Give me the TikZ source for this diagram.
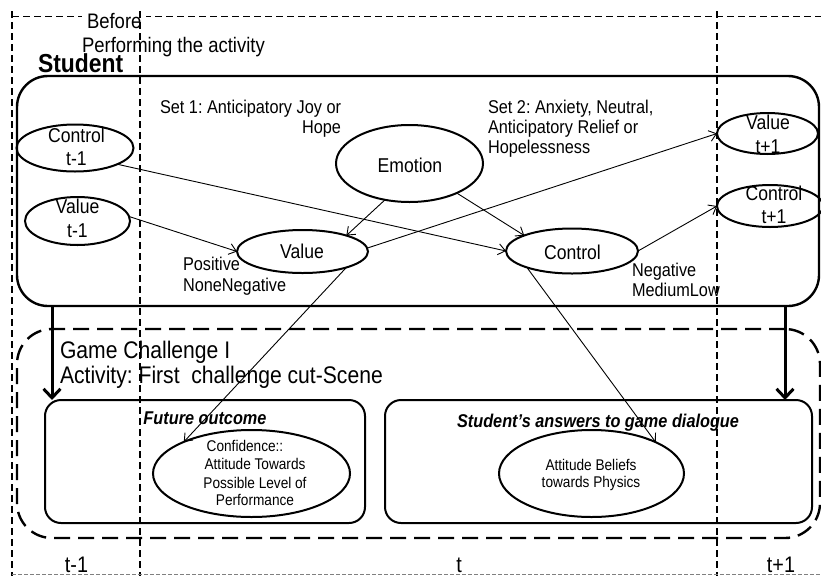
\documentclass[tikz,border=0pt]{standalone}
\usepackage{fontspec}
\setmainfont{Liberation Sans}[FakeStretch=0.88]
\usetikzlibrary{shapes.geometric,arrows.meta,calc}
\newcommand\myfs[1]{\fontsize{#1}{#1}\selectfont}
\frenchspacing
\begin{document}
\begin{tikzpicture}[x=1pt,y=-1pt,
  every node/.style={inner sep=0pt, outer sep=0pt},
  oval/.style={ellipse, draw, line width=2pt, inner sep=0pt},
  ovtxt/.style={anchor=base, font=\myfs{20}},
  lbl/.style={font=\myfs{18.5}},
  dashframe/.style={line width=1.1pt, dash pattern=on 7pt off 4pt},
  conn/.style={line width=0.9pt, -{Straight Barb[length=7pt,width=11pt,line width=0.9pt]}},
  bigarrow/.style={line width=3pt, -{Straight Barb[length=9pt,width=17pt,line width=3pt]}},
  box/.style={draw, line width=2pt, rounded corners=16pt},
]
\useasboundingbox (0,0) rectangle (821,576);

% big boxes
\node[draw, line width=2.4pt, rounded corners=31pt, minimum width=802pt, minimum height=230pt] (stud) at (418,191) {};
\node[draw, line width=2.4pt, dash pattern=on 16pt off 8pt, rounded corners=35pt, minimum width=803pt, minimum height=209pt] (game) at (418.5,433.5) {};
\node[box, minimum width=320pt, minimum height=123pt] (fut) at (205,461.5) {};
\node[box, minimum width=427pt, minimum height=123pt] (ans) at (598.5,461.5) {};

% ellipses
\node[oval, minimum width=117pt, minimum height=47pt] (ct1) at (75,148) {};
\node[oval, minimum width=105pt, minimum height=48pt] (vt1) at (77.5,221) {};
\node[oval, minimum width=147pt, minimum height=77pt] (em) at (409.5,163.5) {};
\node[oval, minimum width=131pt, minimum height=43pt] (vm) at (302.5,251.5) {};
\node[oval, minimum width=132pt, minimum height=45pt] (cm) at (572,251) {};
\node[oval, minimum width=101pt, minimum height=41pt] (vp1) at (767.5,133.5) {};
\node[oval, minimum width=106pt, minimum height=42pt] (cp1) at (770,206) {};
\node[oval, minimum width=197pt, minimum height=87pt] (conf) at (251.5,473.5) {};
\node[oval, minimum width=185pt, minimum height=87pt] (att) at (591.5,473.5) {};

% ellipse texts
\node[ovtxt] (ct1a) at (76.5,142) {Control};
\node[ovtxt] (ct1b) at (76.5,165) {t-1};
\node[ovtxt] (vt1a) at (77.5,213) {Value};
\node[ovtxt] (vt1b) at (77.5,237) {t-1};
\node[ovtxt] (emt) at (410,172) {Emotion};
\node[ovtxt] (vmt) at (302,258) {Value};
\node[ovtxt] (cmt) at (572.5,259) {Control};
\node[ovtxt] (vp1a) at (768,129) {Value};
\node[ovtxt] (vp1b) at (768,153) {t+1};
\node[ovtxt] (cp1a) at (774,200) {Control};
\node[ovtxt] (cp1b) at (774,223) {t+1};

\node[anchor=base, font=\myfs{15.5}] (cf1) at (245,451) {Confidence::};
\node[anchor=base, font=\myfs{15.5}] (cf2) at (255,469) {Attitude Towards};
\node[anchor=base, font=\myfs{15.5}] (cf3) at (255,488) {Possible Level of};
\node[anchor=base, font=\myfs{15.5}] (cf4) at (255,505) {Performance};
\node[anchor=base, font=\myfs{15.5}] (at1) at (591,470) {Attitude Beliefs};
\node[anchor=base, font=\myfs{15.5}] (at2) at (591,487) {towards Physics};

% labels
\node[lbl, anchor=base east] (s1a) at (341,113) {Set 1: Anticipatory Joy or};
\node[lbl, anchor=base east] (s1b) at (341,133) {Hope};
\node[lbl, anchor=base west] (s2a) at (488,113) {Set 2: Anxiety, Neutral,};
\node[lbl, anchor=base west] (s2b) at (488,133) {Anticipatory Relief or};
\node[lbl, anchor=base west] (s2c) at (488,153) {Hopelessness};
\node[lbl, anchor=base west] (pos) at (183,270) {Positive};
\node[lbl, anchor=base west] (nn) at (183,291) {NoneNegative};
\node[lbl, anchor=base west] (neg) at (632,276) {Negative};
\node[lbl, anchor=base west] (ml) at (632,296) {MediumLow};

\node[anchor=base west, font=\myfs{24}] (gc) at (60,358) {Game Challenge I};
\node[anchor=base west, font=\myfs{24}] (act) at (60,383) {Activity: First\ \ challenge cut-Scene};
\node[anchor=base, font=\bfseries\itshape\myfs{18.5}] (futt) at (205,424) {Future outcome};
\node[anchor=base, font=\bfseries\itshape\myfs{18.5}] (anst) at (598,427) {Student’s answers to game dialogue};

% connectors
\draw[conn] (ct1.-21) -- (cm.west);
\draw[conn] (vt1.5) -- (vm.west);
\draw[conn] (em.-124) -- (vm.20);
\draw[conn] (em.-32) -- (cm.162);
\draw[conn] (vm.3) -- (vp1.west);
\draw[conn] (cm.east) -- (cp1.west);
\draw[conn] (vm.-20) -- (conf.155);
\draw[conn] (cm.-160) -- (att.26);

\coordinate (la) at (52,350);
\coordinate (ra) at (785,350);
\draw[bigarrow] (stud.south -| la) -- (fut.north -| la);
\draw[bigarrow] (stud.south -| ra) -- (ans.north -| ra);

% time labels
\node[anchor=base, font=\myfs{22.5}] (tm1) at (76.5,572) {t-1};
\node[anchor=base, font=\myfs{22.5}] (t0) at (459,572) {t};
\node[anchor=base, font=\myfs{22.5}] (tp1) at (781,572) {t+1};

% dashed frame
\draw[line width=1.1pt, dash pattern=on 7pt off 4pt] (12,16.5) -- (821,16.5);
\node[anchor=base west, font=\myfs{21}, fill=white, inner xsep=5pt, inner ysep=3pt] (before) at (82,28) {Before};
\node[anchor=base west, font=\myfs{21}] (perf) at (82,52) {Performing the activity};
\node[anchor=base west, font=\bfseries\myfs{26}] (studlbl) at (38,72) {Student};
\draw[dashframe] (12,11) -- (12,576);
\draw[dashframe] (140,11) -- (140,576);
\draw[dashframe] (717,11) -- (717,576);
\draw[gray, line width=0.8pt, dash pattern=on 4pt off 2pt] (12,574.5) -- (821,574.5);
\end{tikzpicture}
\end{document}
